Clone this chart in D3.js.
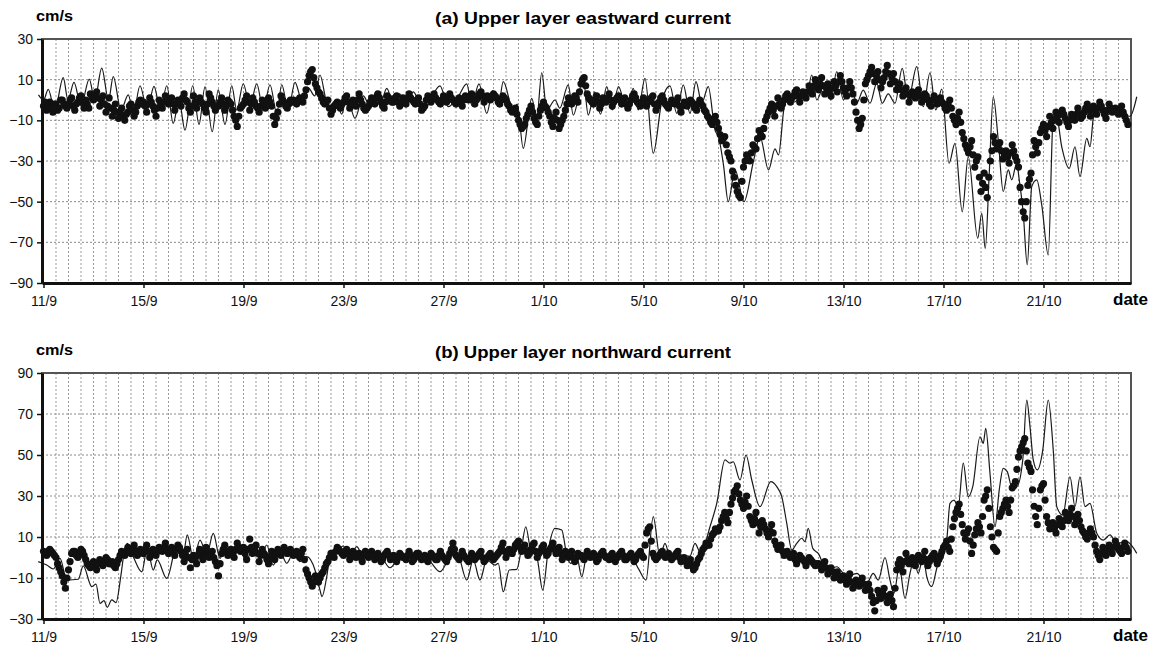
<!DOCTYPE html>
<html>
<head>
<meta charset="utf-8">
<script src="https://cdn.jsdelivr.net/npm/d3@7"></script>
<style>
  body { margin: 0; background: #fff; }
  text { font-family: Arial, "Liberation Sans", sans-serif; }
</style>
</head>
<body>
<div id="chart"></div>
<script>
// time is in days counted from 11/9 00:00
var tickDays = [0, 4, 8, 12, 16, 20, 24, 28, 32, 36, 40];
var tickLabels = ['11/9', '15/9', '19/9', '23/9', '27/9', '1/10', '5/10', '9/10', '13/10', '17/10', '21/10'];
var eastTicks = [30, 10, -10, -30, -50, -70, -90];
var northTicks = [90, 70, 50, 30, 10, -10, -30];
var obsStep = 0.125;   // 3 h; the *Mid arrays sit half a step later

// model (thin line), [day, cm/s]
var eastModel = [
  [-0.2,2.5],[0,0],[0.19,5.2],[0.45,-5],[0.79,11],[0.98,0],[1.22,8.7],[1.5,-3],[1.83,10.3],[2.05,0],
  [2.33,15.7],[2.6,0],[2.79,11.5],[3.1,-5],[3.39,2.5],[3.6,-6.5],[3.86,7],[4.15,-5],[4.42,6.7],[4.68,-5],
  [4.93,7],[5.19,-11.5],[5.42,0],[5.66,-14.8],[5.97,7],[6.22,-12],[6.46,6.5],[6.75,-15.6],[6.99,5],[7.26,-12],
  [7.53,7],[7.73,-5],[7.99,8],[8.26,-3],[8.53,8],[8.79,-5],[9.06,7.5],[9.33,-6.5],[9.53,7.5],[9.79,-5],
  [10.06,8.7],[10.33,0],[10.59,6],[10.85,2],[11.06,12.3],[11.3,0],[11.46,-5],[11.7,0],[11.93,-7],[12.13,2],
  [12.46,-9],[12.79,2],[13.06,-3],[13.3,4],[13.5,-1],[13.73,5.7],[14.0,-2],[14.25,3],[14.5,-3],[14.79,4],
  [15.19,-4.9],[15.86,6.9],[16.19,-3.3],[16.6,2],[16.93,7.9],[17.13,-2.5],[17.42,7.9],[17.73,-6.6],[17.97,4.6],[18.19,-3.3],
  [18.39,9],[18.79,-4.9],[18.95,-2],[19.19,-23.8],[19.53,0.8],[19.73,-9],[19.93,13.4],[20.13,-4.9],[20.46,0],[20.65,-4],
  [20.99,7.4],[21.19,-7.4],[21.59,10.2],[21.79,-7.4],[22.05,4],[22.28,-7],[22.53,6.6],[22.75,-4.9],[23.0,6.6],[23.33,-4.9],
  [23.59,5.7],[23.79,-4.9],[24.06,10.6],[24.39,-26.2],[24.73,-0.8],[25.06,6.9],[25.33,-6.6],[25.59,7.4],[25.86,-6.6],[26.1,9],
  [26.33,-1.6],[26.59,6.6],[26.86,-14.8],[27.0,-18],[27.2,-32],[27.39,-50],[27.66,-34.4],[28.02,-50],[28.4,-30],[28.66,-18],
  [29.0,-34.4],[29.26,-24],[29.4,-27],[29.62,-4],[29.8,2],[30.05,-1],[30.3,3],[30.5,0],[30.73,12.3],[30.93,0],
  [31.26,8.2],[31.49,0],[31.73,14],[32.0,0],[32.26,9.8],[32.53,-1.6],[32.79,4.9],[33.06,-1.6],[33.33,8.2],[33.55,-1.6],
  [33.79,3],[34.06,-1.6],[34.35,15.6],[34.59,0],[34.93,16.4],[35.19,-3.3],[35.46,13.4],[35.69,-4.9],[35.93,5.3],[36.22,-31.1],
  [36.46,-21.3],[36.75,-55],[36.99,-27.9],[37.37,-68],[37.53,-55.7],[37.67,-73],[37.83,-36],[37.99,1.6],[38.19,-19.7],[38.39,-45],
  [38.59,-34.4],[38.73,-39.3],[38.93,-31],[39.03,-39.3],[39.19,-55.7],[39.35,-81],[39.53,-42.6],[39.73,-39.3],[39.93,-51.6],[40.19,-76.2],
  [40.39,-8.2],[40.5,-6.6],[40.73,-23],[41.03,-33.6],[41.26,-23],[41.46,-37.7],[41.73,-18.9],[41.86,-23],[42.02,-6.6],[42.3,-4],
  [42.55,-7.5],[42.8,-4],[43.19,-7.4],[43.46,-8],[43.73,1.6]
];

var northModel = [
  [-0.21,-2],[0.13,-3.7],[0.39,-5.6],[0.66,-0.4],[0.93,-11],[1.39,-10.6],[1.59,-4.1],[1.93,-14.2],[2.1,-13],[2.26,-22.4],
  [2.42,-21],[2.55,-24.3],[2.73,-20.7],[2.9,-22],[3.09,-9.3],[3.22,2],[3.35,6.9],[3.59,0.4],[3.93,-7],[4.15,4.5],
  [4.39,-6.1],[4.55,-1.2],[4.93,-10.2],[5.33,5.3],[5.57,-0.4],[5.75,11],[6.0,-1.2],[6.26,8.5],[6.53,1.2],[6.79,11.8],
  [7.06,-0.4],[7.33,6.1],[7.59,-0.4],[7.86,5.3],[8.1,-2],[8.39,5.3],[8.66,-0.4],[8.93,6.1],[9.19,-3.7],[9.46,2.8],
  [9.73,-2.8],[9.99,2],[10.26,-2],[10.53,0.4],[10.86,-6.1],[11.06,-15.9],[11.14,-19.1],[11.33,-9.3],[11.46,0.4],[11.73,2.8],
  [11.99,5.6],[12.26,-0.4],[12.53,5.3],[12.79,0.4],[13.06,2.8],[13.46,1.2],[13.86,-5],[14.26,0],[14.79,-2],[15.19,2],
  [15.53,-2.9],[15.86,-6.9],[16.19,-1.2],[16.53,2.8],[16.93,-11],[17.19,-1.2],[17.46,-11],[17.73,-1.2],[18.06,-3.7],[18.19,-2.9],
  [18.39,-16.7],[18.63,-6.1],[18.93,-5.8],[19.13,5.3],[19.29,15],[19.49,3.6],[19.73,0.4],[19.97,-15.9],[20.19,3.6],[20.46,14.2],
  [20.73,13.4],[20.93,1.2],[21.09,-2.9],[21.33,0.4],[21.53,-9.4],[21.73,0.4],[22.13,-1.5],[22.39,1.2],[22.79,-2.5],[23.19,-0.4],
  [23.59,-1.5],[23.79,-5.3],[24.1,-11],[24.39,19.9],[24.66,0.4],[24.86,6.9],[25.06,0.4],[25.46,1.2],[25.86,0.7],[26.06,6.9],
  [26.26,2.8],[26.42,5.3],[26.66,15],[26.93,26.4],[27.26,47.6],[27.46,46],[27.59,46.7],[27.86,37.8],[28.1,50],[28.33,37.8],
  [28.66,24.8],[29.09,37],[29.33,34.6],[29.53,29.7],[29.73,16.7],[29.93,3.7],[30.13,6.9],[30.33,9.4],[30.46,7.7],[30.59,14.2],
  [30.77,4.5],[30.99,2],[31.33,-6.1],[31.73,-4.5],[32.13,-9.3],[32.53,-7.7],[32.93,-12.6],[33.19,-7.7],[33.39,-11],[33.66,0],
  [33.86,-11],[34.02,-17.5],[34.23,-4.5],[34.46,-19.9],[34.66,-7.7],[34.82,-1.2],[34.99,-7.7],[35.19,0.4],[35.33,-9.3],[35.53,-14.2],
  [35.75,-4.5],[35.99,0.4],[36.13,8.5],[36.26,26.4],[36.42,28],[36.59,24.8],[36.79,46],[36.99,29.7],[37.17,34.6],[37.46,58.9],
  [37.59,55.7],[37.69,63],[37.86,41],[38.06,15],[38.23,33],[38.39,43.5],[38.55,41.9],[38.73,34.6],[38.93,34.6],[39.17,47.6],
  [39.33,76.8],[39.46,63.8],[39.59,47.6],[39.75,42.7],[39.97,52.4],[40.19,76.8],[40.39,52.4],[40.53,24.8],[40.77,20.7],[41.06,39.4],
  [41.26,24.8],[41.46,39.4],[41.66,24.8],[41.86,26.4],[42.13,11.8],[42.39,8.5],[42.66,11],[42.93,6.9],[43.33,7.7],[43.73,2]
];

// observations (dots), every 3 h from 11/9 00:00, one row of 8 per day
var eastObs = [
  -3,-5,-1,-6,-2,-4,0,-3,   -2,1,-5,-1,2,-4,-2,3,     0,4,-3,2,-6,1,-8,-2,     -9,-4,-10,-6,-2,-8,-3,0,
  -1,-6,1,-3,-8,0,-4,2,     -2,1,-5,0,-3,3,-1,-6,     2,-4,1,-2,-6,3,-1,-5,    -3,1,-5,0,-2,-8,-13,-4,
  -2,2,-5,1,-3,-6,0,-4,     1,-3,-12,-6,2,-1,-4,0,    0,-2,1,-1,5,12,15,8,     4,1,-2,0,-7,-3,-1,-4,
  -1,2,-4,0,-3,3,-2,-5,     -3,1,-2,3,-1,-4,2,0,      -1,2,-3,1,-2,3,0,-2,     1,-5,-3,2,-1,3,0,-2,
  2,-1,3,0,-2,1,-3,2,       0,3,-2,1,4,-1,2,0,        3,1,-2,2,0,-3,-6,-4,     -10,-14,-12,-7,-3,-9,-12,-5,
  -1,-4,-8,-13,-6,-14,-10,-5, 1,-2,2,-1,8,11,3,0,     -2,2,-4,1,-1,3,-3,0,     2,-2,1,-4,0,3,-1,-3,
  1,-3,0,2,-5,-1,2,-2,      -4,0,-2,1,-6,-1,-3,0,     -2,-5,0,-3,-6,-9,-12,-8, -14,-20,-18,-26,-30,-38,-45,-48,
  -33,-27,-30,-22,-24,-15,-18,-10, -6,-2,-8,1,-4,0,3,-1, 2,5,-1,4,1,7,3,10,      5,11,3,8,2,9,4,12,
  6,2,9,3,-6,-14,-9,8,      12,16,9,14,6,11,17,8,     13,5,8,2,6,-1,4,1,       5,-1,3,0,-3,2,-2,1,
  -2,-5,0,-8,-12,-6,-16,-22, -26,-20,-33,-28,-45,-36,-48,-30, -18,-24,-21,-29,-25,-31,-22,-28, -33,-50,-58,-42,-36,-20,-26,-16,
  -12,-18,-8,-14,-6,-11,-5,-9, -13,-7,-10,-4,-9,-6,-2,-8, -3,-7,-1,-5,-9,-2,-6,-4, -7,-3,-8,-12
];
var eastObsMid = [
  -1,-3,-4,-2,-5,0,-2,-4,   0,-3,-2,1,-1,0,-4,1,      2,1,0,-2,-3,-4,-5,-6,    -6,-8,-7,-3,-5,-6,-1,-2,
  -3,-2,-1,-5,-4,-2,-1,0,   -1,-2,-2,-1,1,0,-4,-3,    -1,-1,-1,-4,-2,1,-3,-3,  -1,-2,-3,-1,-5,-10,-8,-3,
  0,-1,-2,-1,-4,-3,-2,-1,   -1,-8,-9,-2,0,-3,-2,-1,   -1,0,0,2,9,14,11,6,      3,-1,-1,-4,-5,-2,-3,-2,
  1,-1,-2,-2,0,0,-4,-4,     -1,-1,1,1,-3,-1,1,-1,     1,-1,-1,0,1,1,-1,0,      -2,-4,0,1,1,1,-1,0,
  0,1,1,-1,0,-1,0,1,        2,0,0,3,2,1,1,2,          2,-1,0,1,-2,-5,-5,-7,    -12,-13,-9,-5,-6,-11,-8,-3,
  -3,-6,-11,-9,-10,-12,-8,-2, -1,0,1,4,10,7,1,-1,     0,-1,-2,0,1,0,-1,1,      0,-1,-2,-2,2,1,-2,-1,
  -1,-1,1,-2,-3,1,0,-3,     -2,-1,-1,-3,-3,-2,-1,-1,  -4,-2,-2,-5,-8,-11,-10,-11, -17,-19,-22,-28,-35,-42,-47,-40,
  -30,-29,-26,-23,-19,-17,-14,-8, -4,-5,-3,-2,-2,2,1,1, 4,2,2,3,4,5,7,8,        8,7,6,5,6,7,9,9,
  4,6,6,-1,-10,-12,0,10,    14,13,12,10,9,14,13,11,   9,7,5,4,3,2,3,3,         2,1,2,-2,0,0,0,-1,
  -4,-2,-4,-10,-9,-11,-19,-24, -23,-27,-30,-38,-41,-43,-38,-25, -21,-23,-25,-27,-28,-26,-25,-30, -43,-55,-50,-39,-27,-23,-21,-14,
  -15,-13,-11,-10,-8,-7,-7,-11, -10,-9,-7,-7,-8,-4,-5,-5, -5,-4,-3,-7,-5,-4,-5,-6, -5,-6,-10
];

var northObs = [
  3,1,4,2,0,-5,-9,-15,      -6,2,3,0,4,1,-3,-5,       -2,-6,-1,-4,0,-3,-2,-5,  -1,3,1,5,2,6,1,4,
  2,6,0,4,1,5,3,7,          2,5,1,6,3,-2,4,-5,        1,-3,4,-1,5,0,3,-2,      -9,2,6,1,4,0,7,3,
  5,-1,9,2,6,-2,4,1,        -3,3,-1,4,1,5,2,4,        1,3,0,4,-6,-10,-14,-9,   -12,-8,-5,-2,2,0,5,3,
  1,4,-1,3,0,2,-2,3,        0,3,-1,2,-2,1,3,-1,       1,-2,2,0,-1,3,-2,1,      2,-1,1,-2,2,0,-1,3,
  0,-2,2,7,1,-1,3,0,        -2,2,-1,1,3,-2,0,2,       -1,1,3,7,0,4,2,6,        8,3,6,1,4,7,0,3,
  6,1,4,7,2,5,-1,3,         0,3,-2,2,1,-1,3,0,        2,-2,1,3,0,-1,2,-2,      1,3,-1,0,2,-2,1,3,
  0,12,15,2,-1,1,3,0,       2,-1,1,3,-2,0,-4,-1,      -6,-3,0,4,7,6,11,14,     13,18,22,17,26,32,35,28,
  24,30,20,16,22,12,18,14,  10,16,8,4,6,1,3,0,        2,-3,1,-1,-4,0,-2,-4,    -3,-6,-2,-8,-5,-10,-7,-11,
  -9,-13,-8,-15,-11,-14,-10,-16, -13,-19,-26,-16,-20,-15,-22,-18, -24,-6,-1,-7,2,-3,0,-4, 1,-2,3,-4,0,2,-3,1,
  5,8,3,15,22,26,16,9,      14,2,11,17,12,28,33,15,   5,3,20,24,28,22,34,37,   49,54,58,46,42,25,16,33,
  36,20,14,17,12,19,15,22,  18,24,16,21,15,12,9,14,   10,3,-1,5,1,6,2,8,       4,2,7,3
];
var northObsMid = [
  2,3,3,1,-3,-7,-12,-10,    -2,3,1,2,3,-1,-4,-3,      -4,-3,-2,-2,-1,-3,-4,-3, 1,2,3,3,4,3,2,3,
  4,3,2,3,3,4,5,4,          3,3,4,5,1,1,0,-1,         -1,1,2,2,3,1,0,-4,       -3,4,3,3,2,4,5,4,
  2,4,5,4,2,1,2,-1,         0,1,2,3,3,3,3,2,          2,2,2,-1,-8,-12,-12,-11, -10,-7,-3,0,1,3,4,2,
  3,2,1,2,1,0,1,2,          1,1,0,0,-1,2,1,0,         -1,0,1,0,1,1,-1,2,       0,0,-1,0,1,-1,1,1,
  -1,0,4,4,0,1,1,-1,        0,0,0,2,0,-1,1,0,         0,2,5,3,2,3,4,7,         5,4,3,2,6,3,2,5,
  3,2,5,4,3,2,1,2,          1,0,0,1,0,1,1,1,          0,-1,2,1,0,1,0,0,        2,1,-1,1,0,-1,2,1,
  6,14,8,0,0,2,1,1,         0,0,2,0,-1,-2,-2,-4,      -5,-1,2,5,6,9,12,13,     15,20,19,22,29,33,31,26,
  27,25,18,19,17,15,16,12,  13,12,6,5,3,2,1,1,        -1,-1,0,-2,-2,-1,-3,-3,  -4,-4,-5,-6,-7,-8,-9,-10,
  -11,-10,-12,-13,-12,-12,-13,-14, -16,-22,-21,-18,-17,-19,-20,-21, -15,-3,-4,-2,-1,-1,-2,-1, -1,0,-1,-2,1,-1,-1,3,
  6,5,9,19,24,21,12,12,     8,6,14,15,20,30,24,10,    4,12,22,26,25,28,35,43,  52,56,52,44,33,20,24,35,
  28,17,15,14,16,17,18,20,  21,20,18,18,13,10,12,12,  6,1,2,3,4,4,5,6,         3,5,5
];

var panels = [
  { title: '(a) Upper layer eastward current', model: eastModel, obs: eastObs, mid: eastObsMid, ticks: eastTicks, top: 39, bottom: 283 },
  { title: '(b) Upper layer northward current', model: northModel, obs: northObs, mid: northObsMid, ticks: northTicks, top: 373, bottom: 619 }
];

var width = 1153, height = 650;
var left = 42, right = 1131;

var svg = d3.select('#chart').append('svg')
    .attr('width', width)
    .attr('height', height);

var xScale = d3.scaleLinear()
    .domain([-0.06, 43.5])
    .range([left, right]);

var halfDays = d3.range(0, 43.51, 0.5);

panels.forEach(function (p) {
    var yScale = d3.scaleLinear()
        .domain([d3.min(p.ticks), d3.max(p.ticks)])
        .range([p.bottom, p.top]);

    var g = svg.append('g');

    // grid
    g.selectAll('.vgrid')
        .data(halfDays)
        .enter().append('line')
        .attr('x1', d => xScale(d)).attr('x2', d => xScale(d))
        .attr('y1', p.top).attr('y2', p.bottom)
        .attr('stroke', '#9a9a9a')
        .attr('stroke-width', 1)
        .attr('stroke-dasharray', '2,2');

    g.selectAll('.hgrid')
        .data(p.ticks)
        .enter().append('line')
        .attr('x1', left).attr('x2', right)
        .attr('y1', d => yScale(d)).attr('y2', d => yScale(d))
        .attr('stroke', '#8a8a8a')
        .attr('stroke-width', 1)
        .attr('stroke-dasharray', '2,2');

    g.append('rect')
        .attr('x', left).attr('y', p.top)
        .attr('width', right - left).attr('height', p.bottom - p.top)
        .attr('fill', 'none')
        .attr('stroke', '#555')
        .attr('stroke-width', 2);

    // model line
    var line = d3.line()
        .x(d => xScale(d[0]))
        .y(d => yScale(d[1]))
        .curve(d3.curveMonotoneX);

    g.append('path')
        .datum(p.model)
        .attr('d', line)
        .attr('fill', 'none')
        .attr('stroke', '#1a1a1a')
        .attr('stroke-width', 1.2);

    // observations
    var pts = p.obs.map((v, i) => [i * obsStep, v])
        .concat(p.mid.map((v, i) => [i * obsStep + obsStep / 2, v]));

    g.selectAll('.obs')
        .data(pts)
        .enter().append('circle')
        .attr('cx', d => xScale(d[0]))
        .attr('cy', d => yScale(d[1]))
        .attr('r', 3.6)
        .attr('fill', '#111');

    // axes
    var yAxis = d3.axisLeft(yScale)
        .tickValues(p.ticks)
        .tickSize(5)
        .tickSizeOuter(0)
        .tickPadding(4);
    var ya = g.append('g')
        .attr('transform', 'translate(' + left + ',0)')
        .call(yAxis);

    var xAxis = d3.axisBottom(xScale)
        .tickValues(tickDays)
        .tickFormat((d, i) => tickLabels[i])
        .tickSize(5)
        .tickSizeOuter(0)
        .tickPadding(8);
    var xa = g.append('g')
        .attr('transform', 'translate(0,' + p.bottom + ')')
        .call(xAxis);

    [ya, xa].forEach(function (a) {
        a.select('.domain').attr('stroke', '#111').attr('stroke-width', 3);
        a.selectAll('.tick line').attr('stroke', '#111').attr('stroke-width', 1.5);
        a.selectAll('.tick text')
            .attr('fill', '#111')
            .style('font-size', '14px');
    });

    // titles
    g.append('text')
        .attr('x', 583).attr('y', p.top - 15)
        .attr('text-anchor', 'middle')
        .attr('textLength', 296)
        .attr('lengthAdjust', 'spacingAndGlyphs')
        .style('font-size', '17px')
        .style('font-weight', 'bold')
        .text(p.title);

    g.append('text')
        .attr('x', 36).attr('y', p.top - 18)
        .attr('textLength', 37)
        .attr('lengthAdjust', 'spacingAndGlyphs')
        .style('font-size', '15px')
        .style('font-weight', 'bold')
        .text('cm/s');

    g.append('text')
        .attr('x', 1113).attr('y', p.bottom + 22)
        .attr('textLength', 35)
        .attr('lengthAdjust', 'spacingAndGlyphs')
        .style('font-size', '16px')
        .style('font-weight', 'bold')
        .text('date');
});
</script>
</body>
</html>
